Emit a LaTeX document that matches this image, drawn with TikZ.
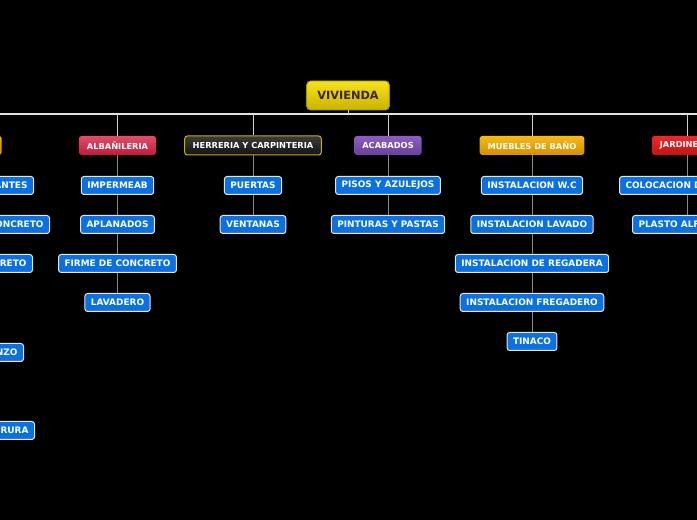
\documentclass[tikz,border=0pt]{standalone}
\usepackage{fontspec}
\setmainfont{DejaVu Sans}
\definecolor{roottop}{HTML}{F7E31C}
\definecolor{rootbot}{HTML}{C9B200}
\definecolor{rootline}{HTML}{A89400}
\definecolor{roottext}{HTML}{3B2600}
\definecolor{leafblue}{HTML}{0B71E1}
\definecolor{leafline}{HTML}{E6E6E6}
\definecolor{barline}{HTML}{E2E2E2}
\definecolor{branchline}{HTML}{D0D0D0}
\definecolor{colline}{HTML}{8A8A8A}
\begin{document}
\begin{tikzpicture}[x=0.75pt, y=-0.75pt,
	root/.style={draw=rootline, line width=0.6pt, rounded corners=3pt, top color=roottop, bottom color=rootbot, text=roottext, font=\bfseries\fontsize{8.5}{9}\selectfont, minimum height=21.75pt, inner xsep=8pt},
	cat/.style={rounded corners=2pt, text=white, font=\bfseries\fontsize{6.2}{7}\selectfont, minimum height=14.25pt, inner xsep=6pt},
	leaf/.style={draw=leafline, line width=0.75pt, rounded corners=2pt, fill=leafblue, text=white, font=\bfseries\fontsize{6.7}{7.5}\selectfont, minimum height=13.5pt, inner xsep=4.5pt},
	bar/.style={draw=barline, line width=1.5pt},
	branch/.style={draw=branchline, line width=0.75pt},
	col/.style={draw=colline, line width=0.75pt}]
		\useasboundingbox (0,0) rectangle (697,520);
		\clip (0,0) rectangle (697,520);
		\fill[black] (0,0) rectangle (697,520);
		\node[root] (vivienda) at (348,95.5) {VIVIENDA};
		\coordinate (barL) at (0,114);
		\coordinate (barR) at (697,114);
		\node[cat, anchor=east, top color={rgb,255:red,243;green,176;blue,0}, bottom color={rgb,255:red,216;green,140;blue,0}] (negra) at (2,145.5) {OBRA NEGRA};
		\node[cat, top color={rgb,255:red,223;green,79;blue,104}, bottom color={rgb,255:red,194;green,26;blue,58}] (alba) at (117.5,145.5) {ALBAÑILERIA};
		\node[cat, draw={rgb,255:red,200;green,176;blue,0}, line width=0.75pt, top color={rgb,255:red,60;green,60;blue,60}, bottom color={rgb,255:red,18;green,18;blue,18}] (herr) at (253,145.5) {HERRERIA Y CARPINTERIA};
		\node[cat, top color={rgb,255:red,139;green,95;blue,194}, bottom color={rgb,255:red,107;green,63;blue,156}] (acab) at (388,145.5) {ACABADOS};
		\node[cat, top color={rgb,255:red,246;green,185;blue,21}, bottom color={rgb,255:red,214;green,143;blue,0}] (mueb) at (532,145.5) {MUEBLES DE BAÑO};
		\node[cat, top color={rgb,255:red,234;green,42;blue,42}, bottom color={rgb,255:red,196;green,18;blue,18}] (jard) at (687,145.5) {JARDINERIA};
		\node[leaf, anchor=east] (n1) at (34,185.5) {ELEMENTOS PORTANTES};
		\node[leaf, anchor=east] (n2) at (50,224.5) {CIMIENTOS DE CONCRETO};
		\node[leaf, anchor=east] (n3) at (33,263.5) {DALAS DE CONCRETO};
		\node[leaf, anchor=east] (n4) at (24,352.5) {LIENZO};
		\node[leaf, anchor=east] (n5) at (35,430.5) {HERRERURA};
		\node[leaf] (a1) at (117.5,185.5) {IMPERMEAB};
		\node[leaf] (a2) at (117.5,224.5) {APLANADOS};
		\node[leaf] (a3) at (117.5,263.5) {FIRME DE CONCRETO};
		\node[leaf] (a4) at (117.5,302.5) {LAVADERO};
		\node[leaf] (h1) at (253,185.5) {PUERTAS};
		\node[leaf] (h2) at (253,224.5) {VENTANAS};
		\node[leaf] (c1) at (388,185.5) {PISOS Y AZULEJOS};
		\node[leaf] (c2) at (388,224.5) {PINTURAS Y PASTAS};
		\node[leaf] (m1) at (532,185.5) {INSTALACION W.C};
		\node[leaf] (m2) at (532,224.5) {INSTALACION LAVADO};
		\node[leaf] (m3) at (532,263.5) {INSTALACION DE REGADERA};
		\node[leaf] (m4) at (532,302.5) {INSTALACION FREGADERO};
		\node[leaf] (m5) at (532,341.5) {TINACO};
		\node[leaf, anchor=west] (j1) at (619,185.5) {COLOCACION DE PASTO};
		\node[leaf, anchor=west] (j2) at (632,224.5) {PLASTO ALFOMBRA};
		\draw[bar] (barL) -- (barR);
		\draw[branch] (vivienda.south) -- (vivienda.south|-barL);
		\foreach \c in {negra,alba,herr,acab,mueb,jard}
			\draw[branch] (\c.north-|\c.center) -- (\c.center|-barL);
		\draw[col] (negra.south) -- (negra.south|-n5.north);
		\draw[col] (alba.south) -- (a1.north);
		\draw[col] (a1.south) -- (a2.north);
		\draw[col] (a2.south) -- (a3.north);
		\draw[col] (a3.south) -- (a4.north);
		\draw[col] (herr.south) -- (h1.north);
		\draw[col] (h1.south) -- (h2.north);
		\draw[col] (acab.south) -- (c1.north);
		\draw[col] (c1.south) -- (c2.north);
		\draw[col] (mueb.south) -- (m1.north);
		\draw[col] (m1.south) -- (m2.north);
		\draw[col] (m2.south) -- (m3.north);
		\draw[col] (m3.south) -- (m4.north);
		\draw[col] (m4.south) -- (m5.north);
		\draw[col] (jard.south) -- (jard.south|-j1.north);
		\draw[col] (jard.south|-j1.south) -- (jard.south|-j2.north);
\end{tikzpicture}
\end{document}
